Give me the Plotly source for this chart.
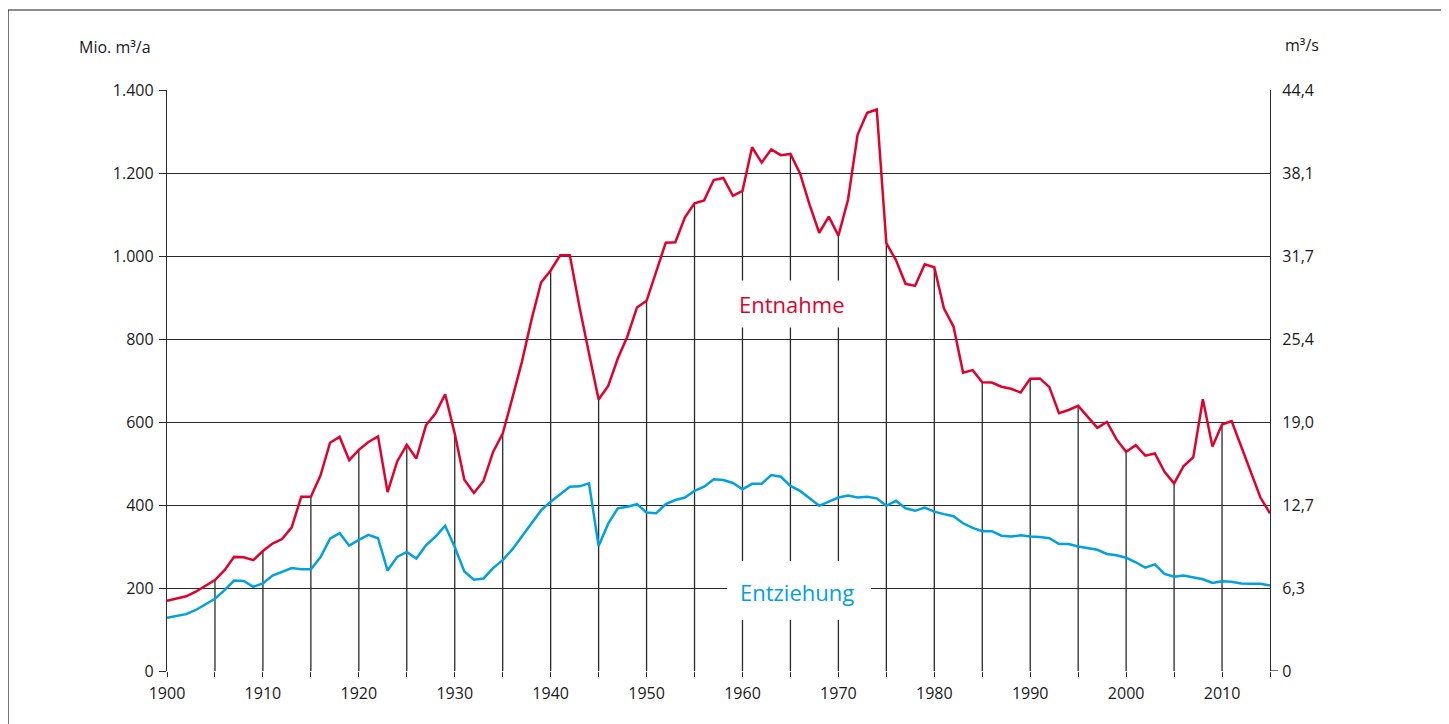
import plotly.graph_objects as go

years = list(range(1900, 2016))

entnahme = [169, 175, 180, 191, 206, 219, 243, 275, 274, 267,
            289, 307, 318, 346, 420, 420, 471, 550, 564, 508,
            533, 552, 565, 431, 505, 545, 512, 592, 621, 667,
            572, 461, 429, 458, 528, 572, 657, 745, 846, 936,
            965, 1002, 1002, 878, 765, 654, 687, 753, 806, 876,
            892, 962, 1032, 1033, 1093, 1127, 1134, 1183, 1188, 1145,
            1157, 1262, 1225, 1257, 1243, 1246, 1199, 1123, 1056, 1095,
            1049, 1135, 1292, 1345, 1353, 1031, 990, 933, 928, 980,
            973, 874, 830, 719, 725, 696, 695, 685, 680, 671,
            704, 705, 684, 621, 629, 639, 613, 586, 600, 558,
            528, 544, 519, 524, 480, 452, 494, 515, 655, 541,
            594, 602, 541, 480, 418, 380]

entziehung = [128, 133, 137, 147, 161, 174, 195, 218, 217, 203,
              211, 230, 239, 248, 245, 245, 274, 319, 332, 302,
              316, 328, 320, 242, 275, 287, 271, 303, 324, 350,
              299, 240, 220, 223, 248, 267, 293, 325, 355, 387,
              408, 426, 444, 445, 452, 301, 355, 392, 396, 402,
              382, 380, 402, 412, 418, 434, 444, 462, 460, 453,
              438, 451, 451, 472, 468, 446, 434, 416, 398, 408,
              418, 423, 418, 420, 416, 398, 410, 392, 386, 394,
              384, 378, 373, 356, 345, 337, 337, 326, 324, 327,
              324, 323, 320, 306, 306, 300, 296, 292, 282, 279,
              273, 262, 249, 257, 234, 227, 230, 225, 221, 212,
              216, 215, 211, 210, 210, 206]

y_ticks = [0, 200, 400, 600, 800, 1000, 1200, 1400]
y_left_labels = ["0", "200", "400", "600", "800", "1.000", "1.200", "1.400"]
y_right_labels = ["0", "6,3", "12,7", "19,0", "25,4", "31,7", "38,1", "44,4"]
x_ticks = list(range(1900, 2016, 5))
x_labels = [str(y) if y % 10 == 0 and y < 2015 else "" for y in x_ticks]

RED = "#E2002D"
BLUE = "#00A0E1"
GRID = "#2a2a2a"
FONT = "Open Sans"

val = dict(zip(years, entnahme))

# vertical grid segments from 0 up to the Entnahme curve at each 5-year mark
vx, vy = [], []
for yr in range(1905, 2015, 5):
    vx += [yr, yr, None]
    vy += [0, val[yr], None]

fig = go.Figure()
fig.add_trace(go.Scatter(x=vx, y=vy, mode="lines",
                         line=dict(color=GRID, width=1.3),
                         hoverinfo="skip", showlegend=False))

# white label boxes (cut gaps in the grid)
def box(x0, x1, y0, y1):
    return go.Scatter(x=[x0, x1, x1, x0, x0], y=[y0, y0, y1, y1, y0],
                      mode="lines", fill="toself", fillcolor="white",
                      line=dict(width=0, color="white"),
                      hoverinfo="skip", showlegend=False)

fig.add_trace(box(1958.4, 1971.6, 828, 941))
fig.add_trace(box(1958.4, 1973.4, 123, 265))

fig.add_trace(go.Scatter(x=years, y=entziehung, mode="lines", name="Entziehung",
                         line=dict(color=BLUE, width=2.5), showlegend=False))
fig.add_trace(go.Scatter(x=years, y=entnahme, mode="lines", name="Entnahme",
                         line=dict(color=RED, width=2.5), showlegend=False))
# invisible trace to activate the right axis
fig.add_trace(go.Scatter(x=years, y=entnahme, yaxis="y2", mode="lines",
                         line=dict(width=0), opacity=0, hoverinfo="skip",
                         showlegend=False))

fig.update_layout(
    width=1441, height=716,
    margin=dict(l=159, r=179, t=82, b=53),
    paper_bgcolor="white", plot_bgcolor="white",
    font=dict(family=FONT, size=16, color="#1a1a1a"),
    xaxis=dict(range=[1900, 2015], tickvals=x_ticks, ticktext=x_labels,
               ticks="outside", ticklen=5, tickwidth=1.3, tickcolor=GRID,
               ticklabelstandoff=3,
               showgrid=False, zeroline=False, showline=False,
               fixedrange=True),
    yaxis=dict(range=[0, 1400], tickvals=y_ticks, ticktext=y_left_labels,
               ticks="outside", ticklen=7, tickwidth=1.3, tickcolor=GRID,
               ticklabelstandoff=2,
               showgrid=True, gridcolor=GRID, gridwidth=1.3,
               zeroline=False, showline=True, linecolor=GRID, linewidth=1.3,
               fixedrange=True),
    yaxis2=dict(range=[0, 1400], tickvals=y_ticks, ticktext=y_right_labels,
                overlaying="y", side="right", ticks="", showgrid=False,
                ticklabelstandoff=8,
                zeroline=False, showline=True, linecolor=GRID, linewidth=1.3,
                fixedrange=True),
    showlegend=False,
)

fig.add_shape(type="rect", xref="paper", yref="paper",
              x0=-0.14415, x1=1.15684, y0=-0.15, y1=1.1377,
              line=dict(color="#1a1a1a", width=1.2), fillcolor="rgba(0,0,0,0)")
fig.add_shape(type="line", xref="paper", yref="y", x0=1, x1=1 + 8 / 1103,
              y0=0, y1=0, line=dict(color=GRID, width=1.3))

fig.add_annotation(text="Mio. m³/a", xref="paper", yref="paper",
                   x=-0.0127, y=1.074, xanchor="right", yanchor="middle",
                   showarrow=False, font=dict(size=16))
fig.add_annotation(text="m³/s", xref="paper", yref="paper",
                   x=1.0118, y=1.0775, xanchor="left", yanchor="middle",
                   showarrow=False, font=dict(size=16))
fig.add_annotation(text="Entnahme", x=1965.2, y=885, showarrow=False,
                   font=dict(size=22, color=RED))
fig.add_annotation(text="Entziehung", x=1965.7, y=190, showarrow=False,
                   font=dict(size=22, color=BLUE))

fig.write_html("out.html")
